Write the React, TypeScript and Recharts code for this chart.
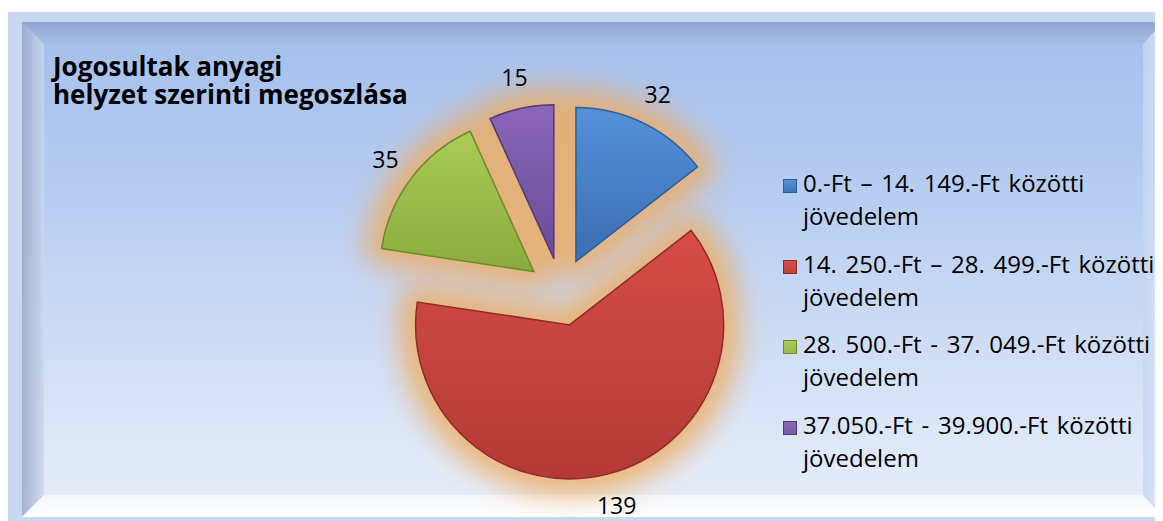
import React from 'react';
import { PieChart, Pie, Cell } from 'recharts';

const categories = [
  '0.-Ft – 14. 149.-Ft közötti jövedelem',
  '14. 250.-Ft – 28. 499.-Ft közötti jövedelem',
  '28. 500.-Ft - 37. 049.-Ft közötti jövedelem',
  '37.050.-Ft - 39.900.-Ft közötti jövedelem',
];
const values = [32, 139, 35, 15];
const titleLines = ['Jogosultak anyagi', 'helyzet szerinti megoszlása'];

const gradTop = ['#5591da', '#d64c48', '#aacb55', '#8a66b9'];
const gradBottom = ['#3a6db4', '#b33a36', '#8bab3f', '#6a4b98'];
const strokes = ['#2f5d95', '#8e2b28', '#6d8a2c', '#523a78'];
const legendColors = ['#3f75b8', '#c0433f', '#9dbb4c', '#7a5aa6'];

const W = 1155;
const H = 513;
const BASE_CX = 553;
const BASE_CY = 284;
const R = 154;
const EXPLODE = 34;
const LABEL_GAP = 32;
const FONT = '"Open Sans", Lato, sans-serif';

const data = categories.map((name, i) => ({ name, value: values[i] }));
const total = values.reduce((a, b) => a + b, 0);
const mids: number[] = [];
{
  let cum = 0;
  values.forEach((v) => {
    mids.push(((cum + v / 2) / total) * 360);
    cum += v;
  });
}
const offsets = mids.map((m) => ({
  dx: EXPLODE * Math.sin((m * Math.PI) / 180),
  dy: -EXPLODE * Math.cos((m * Math.PI) / 180),
}));

const makeLabel = (i: number) => (props: any) => {
  if (props.index !== i) return null;
  const RAD = Math.PI / 180;
  const rr = props.outerRadius + LABEL_GAP;
  const x = props.cx + rr * Math.cos(-props.midAngle * RAD);
  const y = props.cy + rr * Math.sin(-props.midAngle * RAD);
  return (
    <text
      x={x}
      y={y}
      textAnchor="middle"
      dominantBaseline="central"
      fill="#000"
      style={{ fontFamily: FONT, fontSize: 23 }}
    >
      {values[i]}
    </text>
  );
};

export default function App() {
  return (
    <div style={{ position: 'relative', width: W, height: H, fontFamily: FONT }}>
      <svg width="0" height="0" style={{ position: 'absolute' }}>
        <defs>
          <filter id="glowBlur" x="-40%" y="-40%" width="180%" height="180%">
            <feGaussianBlur stdDeviation="10" />
          </filter>
          {values.map((_, i) => (
            <linearGradient key={i} id={`sliceGrad${i}`} x1="0" y1="0" x2="0" y2="1">
              <stop offset="0%" stopColor={gradTop[i]} />
              <stop offset="100%" stopColor={gradBottom[i]} />
            </linearGradient>
          ))}
        </defs>
      </svg>
      <style>{`.glowpie { filter: url(#glowBlur); opacity: 0.9; }`}</style>
      {/* outer frame */}
      <div style={{ position: 'absolute', left: 0, top: 4, width: W, height: H - 4, background: '#c6d9f1' }} />
      {/* inner panel */}
      <div
        style={{
          position: 'absolute',
          left: 14,
          top: 14,
          width: W - 14,
          height: H - 18,
          background: 'linear-gradient(to bottom, #a5bfeb 0%, #b7cdf1 35%, #d2e0f6 70%, #e8effb 100%)',
        }}
      />
      {/* bevels */}
      <div
        style={{
          position: 'absolute', left: 14, top: 14, width: W - 14, height: 22,
          background: 'linear-gradient(to bottom, #8ea4cf, #a6bde6)',
          clipPath: 'polygon(0 0, 100% 0, calc(100% - 20px) 100%, 22px 100%)',
        }}
      />
      <div
        style={{
          position: 'absolute', left: 14, top: 14, width: 22, height: H - 18,
          background: 'linear-gradient(to right, #9aa9c8, #cad8f0)',
          clipPath: 'polygon(0 0, 100% 22px, 100% calc(100% - 22px), 0 100%)',
          opacity: 0.85,
        }}
      />
      <div
        style={{
          position: 'absolute', left: 14, top: H - 26, width: W - 14, height: 22,
          background: 'linear-gradient(to bottom, #f4f7fd, #ffffff)',
          clipPath: 'polygon(22px 0, calc(100% - 20px) 0, 100% 100%, 0 100%)',
        }}
      />
      <div
        style={{
          position: 'absolute', left: W - 20, top: 14, width: 20, height: H - 18,
          background: 'linear-gradient(to right, #c5d6f2, #dbe6f7)',
          clipPath: 'polygon(0 22px, 100% 0, 100% 100%, 0 calc(100% - 22px))',
          opacity: 0.8,
        }}
      />
      {/* title */}
      <div
        style={{
          position: 'absolute', left: 45, top: 44, fontWeight: 700, fontSize: 26,
          lineHeight: '28px', color: '#000', whiteSpace: 'nowrap',
        }}
      >
        {titleLines.map((t, i) => (
          <div key={i} style={{ height: 28, overflow: 'visible' }}>{t}</div>
        ))}
      </div>
      <div style={{ position: 'absolute', left: 0, top: 0 }}>
        <PieChart width={W} height={H} margin={{ top: 0, right: 0, bottom: 0, left: 0 }}>
          {values.map((_, i) => (
            <Pie
              key={`glow${i}`}
              className="glowpie"
              data={data}
              dataKey="value"
              nameKey="name"
              cx={BASE_CX + offsets[i].dx}
              cy={BASE_CY + offsets[i].dy}
              outerRadius={R}
              startAngle={90}
              endAngle={-270}
              isAnimationActive={false}
              label={false}
              labelLine={false}
            >
              {data.map((_, j) => (
                <Cell
                  key={j}
                  fill={j === i ? '#f0aa5c' : 'transparent'}
                  stroke={j === i ? '#f0aa5c' : 'none'}
                  strokeWidth={j === i ? 34 : 0}
                  strokeLinejoin="round"
                />
              ))}
            </Pie>
          ))}
          {values.map((_, i) => (
            <Pie
              key={`slice${i}`}
              data={data}
              dataKey="value"
              nameKey="name"
              cx={BASE_CX + offsets[i].dx}
              cy={BASE_CY + offsets[i].dy}
              outerRadius={R}
              startAngle={90}
              endAngle={-270}
              isAnimationActive={false}
              label={makeLabel(i)}
              labelLine={false}
            >
              {data.map((_, j) => (
                <Cell
                  key={j}
                  fill={j === i ? `url(#sliceGrad${i})` : 'transparent'}
                  stroke={j === i ? strokes[i] : 'none'}
                  strokeWidth={j === i ? 1.5 : 0}
                />
              ))}
            </Pie>
          ))}
        </PieChart>
      </div>
      {/* legend */}
      <div style={{ position: 'absolute', left: 775, top: 158, fontSize: 24, color: '#000', wordSpacing: 2.5 }}>
        {categories.map((c, i) => {
          const k = c.lastIndexOf(' ');
          return (
            <div key={i} style={{ position: 'relative', paddingLeft: 20, height: 80.5, lineHeight: '33px' }}>
              <span
                style={{
                  position: 'absolute', left: 0, top: 13, width: 14, height: 14,
                  background: `linear-gradient(to bottom, ${gradTop[i]}, ${legendColors[i]})`,
                  border: `1px solid ${strokes[i]}`, boxSizing: 'border-box',
                }}
              />
              <div style={{ whiteSpace: 'nowrap' }}>{c.slice(0, k)}</div>
              <div style={{ whiteSpace: 'nowrap' }}>{c.slice(k + 1)}</div>
            </div>
          );
        })}
      </div>
    </div>
  );
}
